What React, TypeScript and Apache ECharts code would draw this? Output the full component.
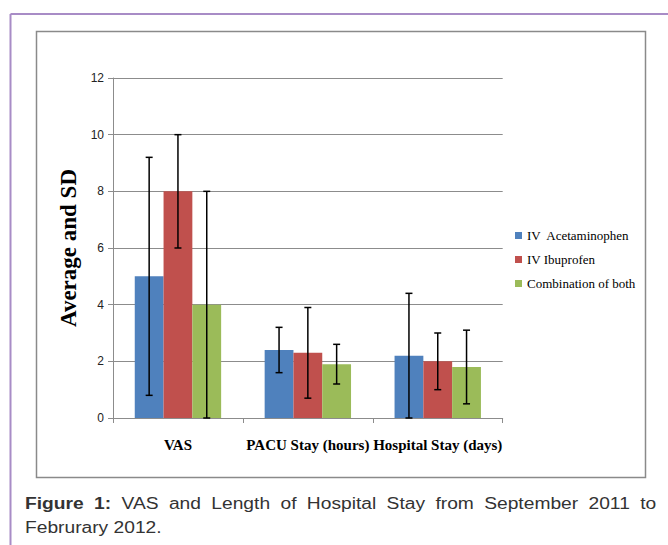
import React, { useEffect, useRef } from "react";
import * as echarts from "echarts";

const categories = ["VAS", "PACU Stay (hours)", "Hospital Stay (days)"];
const seriesNames = ["IV  Acetaminophen", "IV Ibuprofen", "Combination of both"];
const colors = ["#4f81bd", "#c0504d", "#9bbb59"];
const acetaminophen = [5, 2.4, 2.2];
const ibuprofen = [8, 2.3, 2.0];
const combination = [4, 1.9, 1.8];
const acetaminophenLow = [0.8, 1.6, 0];
const acetaminophenHigh = [9.2, 3.2, 4.4];
const ibuprofenLow = [6, 0.7, 1.0];
const ibuprofenHigh = [10, 3.9, 3.0];
const combinationLow = [0, 1.2, 0.5];
const combinationHigh = [8, 2.6, 3.1];
const yTicks = [0, 2, 4, 6, 8, 10, 12];

const values = [acetaminophen, ibuprofen, combination];
const lows = [acetaminophenLow, ibuprofenLow, combinationLow];
const highs = [acetaminophenHigh, ibuprofenHigh, combinationHigh];

const CAT_GAP = 0.335;

export default function App() {
  const ref = useRef<HTMLDivElement>(null);
  useEffect(() => {
    if (!ref.current) return;
    const chart = echarts.init(ref.current, null, { renderer: "svg" });
    const barSeries = values.map((v, i) => ({
      name: seriesNames[i],
      type: "bar",
      data: v,
      barGap: "0%",
      barCategoryGap: (CAT_GAP * 100).toFixed(1) + "%",
      itemStyle: { color: colors[i] },
      z: 2,
    }));
    const errSeries = values.map((v, i) => ({
      name: seriesNames[i] + " err",
      type: "custom",
      z: 5,
      data: v.map((_, k) => [k, lows[i][k], highs[i][k]]),
      encode: { x: 0, y: [1, 2] },
      renderItem: (params: any, api: any) => {
        const cat = api.value(0);
        const lo = api.coord([cat, api.value(1)]);
        const hi = api.coord([cat, api.value(2)]);
        const catW = api.size([1, 0])[0];
        const barW = (catW * (1 - CAT_GAP)) / 3;
        const x = lo[0] + (i - 1) * barW;
        const cap = 3.5;
        const st = { stroke: "#000", lineWidth: 1.5 };
        return {
          type: "group",
          children: [
            { type: "line", shape: { x1: x, y1: lo[1], x2: x, y2: hi[1] }, style: st },
            { type: "line", shape: { x1: x - cap, y1: lo[1], x2: x + cap, y2: lo[1] }, style: st },
            { type: "line", shape: { x1: x - cap, y1: hi[1], x2: x + cap, y2: hi[1] }, style: st },
          ],
        };
      },
    }));
    chart.setOption({
      animation: false,
      backgroundColor: "#ffffff",
      grid: { left: 113, right: 165.3, top: 78, bottom: 127, containLabel: false },
      legend: {
        orient: "vertical",
        left: 510,
        top: 223,
        itemWidth: 7,
        itemHeight: 7,
        itemGap: 9,
        icon: "rect",
        data: seriesNames,
        textStyle: {
          fontFamily: "Liberation Serif",
          fontSize: 13,
          color: "#000",
          lineHeight: 15,
        },
      },
      xAxis: {
        type: "category",
        data: categories,
        axisLine: { lineStyle: { color: "#8c8c8c", width: 1 } },
        axisTick: { show: true, length: 5, alignWithLabel: false, lineStyle: { color: "#8c8c8c" } },
        axisLabel: {
          interval: 0,
          margin: 19,
          fontFamily: "Liberation Serif",
          fontWeight: "bold",
          fontSize: 15,
          color: "#000",
        },
      },
      yAxis: {
        type: "value",
        min: yTicks[0],
        max: yTicks[yTicks.length - 1],
        interval: 2,
        name: "Average and SD",
        nameLocation: "middle",
        nameGap: 33,
        nameTextStyle: {
          fontFamily: "Liberation Serif",
          fontWeight: "bold",
          fontSize: 23,
          color: "#000",
        },
        axisLine: { show: true, lineStyle: { color: "#8c8c8c", width: 1 } },
        axisTick: { show: true, length: 5, lineStyle: { color: "#8c8c8c" } },
        splitLine: { lineStyle: { color: "#8c8c8c", width: 1 } },
        axisLabel: {
          margin: 9,
          fontFamily: "Liberation Sans",
          fontSize: 12,
          color: "#222",
        },
      },
      graphic: [
        {
          type: "line",
          shape: { x1: 10.5, y1: 14, x2: 668, y2: 14 },
          style: { stroke: "#a88cc6", lineWidth: 2 },
          z: 10,
        },
        {
          type: "line",
          shape: { x1: 10.5, y1: 14, x2: 10.5, y2: 545 },
          style: { stroke: "#a88cc6", lineWidth: 2 },
          z: 10,
        },
        {
          type: "rect",
          shape: { x: 36.5, y: 31.5, width: 609, height: 446 },
          style: { fill: "none", stroke: "#8a8a8a", lineWidth: 1.5 },
          z: 10,
        },
      ],
      series: [...barSeries, ...errSeries],
    });
    return () => chart.dispose();
  }, []);

  const capStyle: React.CSSProperties = {
    fontFamily: "'Liberation Sans', Arial, sans-serif",
    fontSize: 16,
    lineHeight: "24px",
    color: "#333",
    transform: "scaleX(1.2)",
    transformOrigin: "0 0",
  };

  return (
    <div style={{ position: "fixed", left: 0, top: 0, width: 668, height: 545, background: "#fff" }}>
      <div ref={ref} style={{ position: "absolute", left: 0, top: 0, width: 668, height: 545 }} />
      <div style={{ position: "absolute", left: 25, top: 492, width: 526, ...capStyle }}>
        <div style={{ textAlign: "justify", textAlignLast: "justify" } as React.CSSProperties}>
          <b>Figure 1:</b> VAS and Length of Hospital Stay from September 2011 to
        </div>
        <div>Februrary 2012.</div>
      </div>
    </div>
  );
}
